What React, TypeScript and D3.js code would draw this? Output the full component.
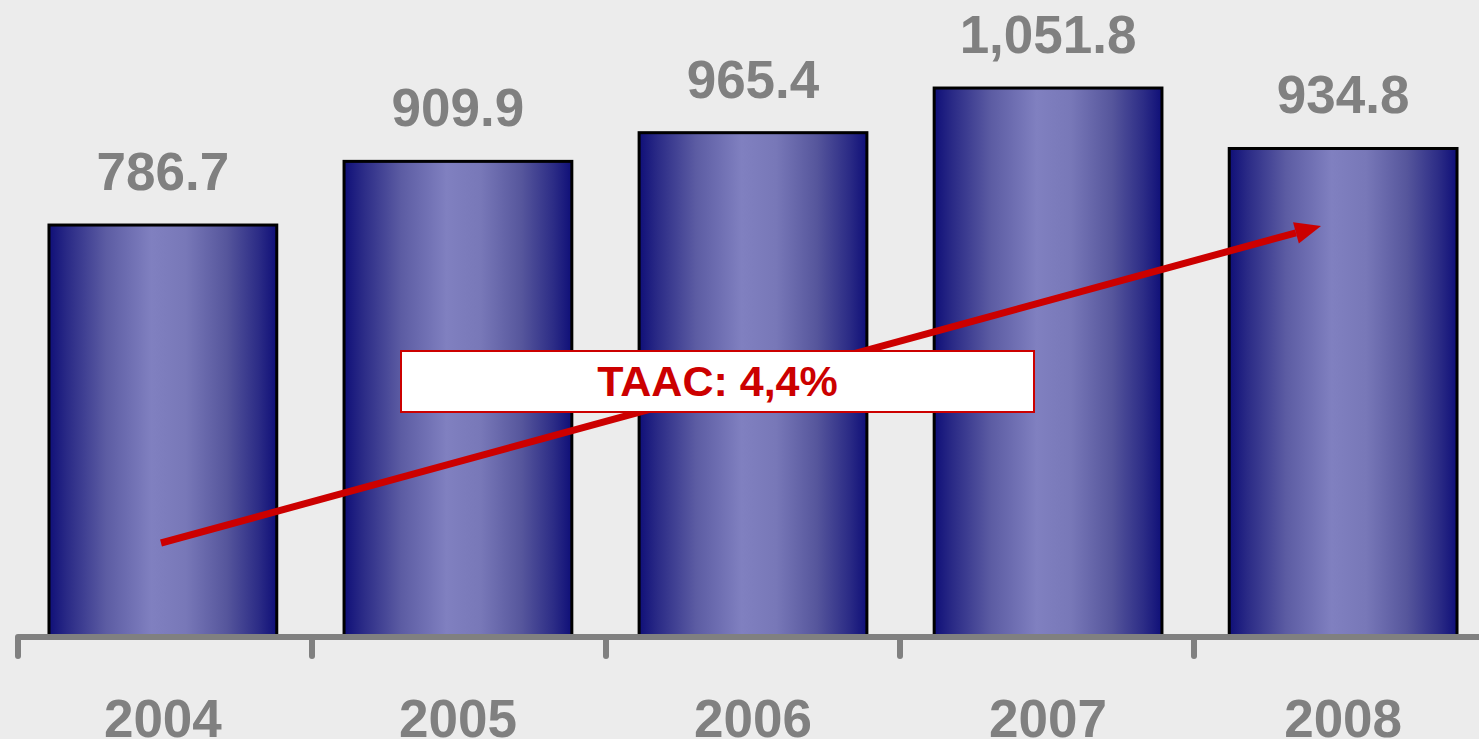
import React from "react";
import * as d3 from "d3";

const years = ["2004", "2005", "2006", "2007", "2008"];
const values = [786.7, 909.9, 965.4, 1051.8, 934.8];
const valueLabels = ["786.7", "909.9", "965.4", "1,051.8", "934.8"];
const cagrLabel = "TAAC: 4,4%";

const W = 1479;
const H = 739;

export default function App() {
  const step = 294;
  const x = d3.scaleBand<string>().domain(years).range([18, 18 + step * 5]).paddingInner(0.228).paddingOuter(0.105);
  const y = d3.scaleLinear().domain([0, 1100]).range([631.6, 631.6 - 1100 * 0.5168]);
  const baseY = 637;
  const ticks = d3.range(0, 6).map((i) => 18 + step * i);
  const font = "Arial, 'Liberation Sans', sans-serif";

  // arrow from first to last category
  const x0 = 161, y0 = 543, x1 = 1321, y1 = 226;
  const ang = Math.atan2(y1 - y0, x1 - x0);
  const headLen = 26, headW = 11;
  const bx = x1 - headLen * Math.cos(ang), by = y1 - headLen * Math.sin(ang);
  const px = -Math.sin(ang), py = Math.cos(ang);
  const head = [
    [x1, y1],
    [bx + px * headW, by + py * headW],
    [bx - px * headW, by - py * headW],
  ];

  return (
    <svg width={W} height={H} style={{ position: "absolute", left: 0, top: 0 }}>
      <defs>
        <linearGradient id="barGrad" x1="0" x2="1" y1="0" y2="0">
          <stop offset="0" stopColor="#0f0f78" />
          <stop offset="0.08" stopColor="#2a2a86" />
          <stop offset="0.25" stopColor="#5c5ca3" />
          <stop offset="0.45" stopColor="#8080c0" />
          <stop offset="0.6" stopColor="#7878b8" />
          <stop offset="0.78" stopColor="#56569c" />
          <stop offset="0.92" stopColor="#2c2c86" />
          <stop offset="1" stopColor="#0f0f78" />
        </linearGradient>
      </defs>
      <rect x={0} y={0} width={W} height={H} fill="#ececec" />
      {years.map((yr, i) => (
        <rect
          key={yr}
          x={x(yr)!}
          y={y(values[i])}
          width={x.bandwidth()}
          height={baseY - y(values[i])}
          fill="url(#barGrad)"
          stroke="#000"
          strokeWidth={3}
        />
      ))}
      {years.map((yr, i) => (
        <text
          key={"v" + yr}
          x={x(yr)! + x.bandwidth() / 2}
          y={y(values[i]) - 35}
          textAnchor="middle"
          fontFamily={font}
          fontWeight="bold"
          fontSize={53}
          fill="#808080"
        >
          {valueLabels[i]}
        </text>
      ))}
      <line x1={ticks[0]} x2={W} y1={baseY} y2={baseY} stroke="#808080" strokeWidth={6} />
      {ticks.map((t, i) => (
        <line key={"t" + i} x1={t} x2={t} y1={baseY} y2={656} stroke="#808080" strokeWidth={6} strokeLinecap="round" />
      ))}
      {years.map((yr) => (
        <text
          key={"y" + yr}
          x={x(yr)! + x.bandwidth() / 2}
          y={737}
          textAnchor="middle"
          fontFamily={font}
          fontWeight="bold"
          fontSize={53}
          fill="#808080"
        >
          {yr}
        </text>
      ))}
      <line x1={x0} y1={y0} x2={bx} y2={by} stroke="#cc0000" strokeWidth={7} />
      <polygon points={head.map((p) => p.join(",")).join(" ")} fill="#cc0000" />
      <rect x={401} y={351} width={633} height={61} fill="#ffffff" stroke="#cc0000" strokeWidth={2} />
      <text x={717.5} y={396} textAnchor="middle" fontFamily={font} fontWeight="bold" fontSize={43} fill="#cc0000">
        {cagrLabel}
      </text>
    </svg>
  );
}
